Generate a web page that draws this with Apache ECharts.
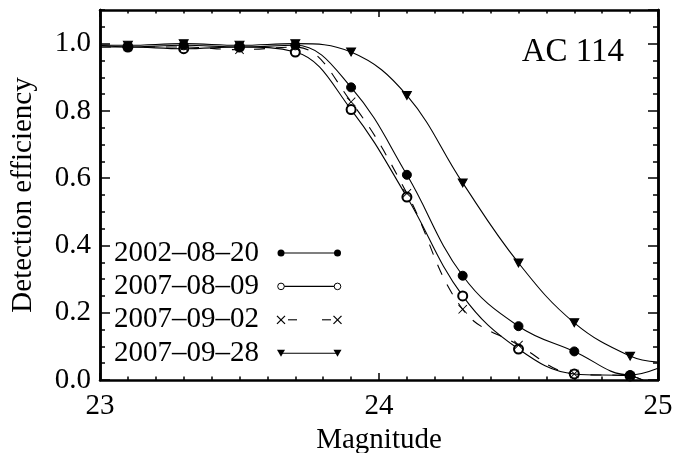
<!DOCTYPE html>
<html>
<head>
<meta charset="utf-8">
<script src="https://cdn.jsdelivr.net/npm/echarts@6/dist/echarts.min.js"></script>
<style>
  html, body { margin: 0; padding: 0; background: #fff; }
  #chart { width: 673px; height: 453px; }
</style>
</head>
<body>
<div id="chart"></div>
<script>
  // magnitudes: first and last are curve ends only (no marker)
  const mags = [23.0, 23.1, 23.3, 23.5, 23.7, 23.9, 24.1, 24.3, 24.5, 24.7, 24.9, 25.0];
  const eff0820 = [0.995, 0.99, 0.995, 0.99, 0.995, 0.87, 0.61, 0.31, 0.16, 0.085, 0.015, 0.035];
  const eff0809 = [0.99, 0.99, 0.985, 0.99, 0.975, 0.804, 0.544, 0.25, 0.092, 0.018, 0.012, -0.03];
  const eff0902 = [0.99, 0.99, 0.99, 0.982, 0.99, 0.827, 0.555, 0.21, 0.104, 0.018, 0.012, -0.03];
  const eff0928 = [0.995, 0.995, 1.0, 0.995, 1.0, 0.975, 0.846, 0.586, 0.348, 0.17, 0.071, 0.053];
  const names = ['2002–08–20', '2007–08–09', '2007–09–02', '2007–09–28'];
  const xTicks = [23, 24, 25];
  const yTicks = [0, 0.2, 0.4, 0.6, 0.8, 1.0];

  const FONT = 'Liberation Serif';
  const crossPath = 'path://M0,0.7L0.7,0L5,4.3L9.3,0L10,0.7L5.7,5L10,9.3L9.3,10L5,5.7L0.7,10L0,9.3L4.3,5Z';

  const makeData = (vals) => vals.map((v, i) => {
    const item = { value: [mags[i], v] };
    if (i === 0 || i === mags.length - 1) item.symbol = 'none';
    return item;
  });

  const lineSeries = (name, vals, symbol, size, extra) => Object.assign({
    name: name,
    type: 'line',
    data: makeData(vals),
    smooth: 0.4,
    symbol: symbol,
    symbolSize: size,
    showAllSymbol: true,
    clip: true,
    lineStyle: { color: '#000', width: 1.1 },
    itemStyle: { color: '#000', borderColor: '#000', borderWidth: 1 },
    emphasis: { disabled: true }
  }, extra || {});

  // legend drawn by hand: text, sample line, marker at each end
  const legendGraphics = () => {
    const out = [];
    const x1 = 281, x2 = 337.5;
    names.forEach((n, i) => {
      const y = 253 + 33.4 * i;
      out.push({ type: 'text', x: 114, y: y, style: { text: n, font: '29px "' + FONT + '"', fill: '#000', verticalAlign: 'middle', align: 'left' } });
      if (i === 2) {
        out.push({ type: 'line', shape: { x1: 288, y1: y, x2: 297, y2: y }, style: { stroke: '#000', lineWidth: 1.1 } });
        out.push({ type: 'line', shape: { x1: 322, y1: y, x2: 331, y2: y }, style: { stroke: '#000', lineWidth: 1.1 } });
      } else {
        out.push({ type: 'line', shape: { x1: x1, y1: y, x2: x2, y2: y }, style: { stroke: '#000', lineWidth: 1.1 } });
      }
      [x1, x2].forEach((x) => {
        if (i === 0) {
          out.push({ type: 'circle', shape: { cx: x, cy: y, r: 3.5 }, style: { fill: '#000' } });
        } else if (i === 1) {
          out.push({ type: 'circle', shape: { cx: x, cy: y, r: 3.3 }, style: { fill: '#fff', stroke: '#000', lineWidth: 1 } });
        } else if (i === 2) {
          out.push({ type: 'line', shape: { x1: x - 4, y1: y - 4, x2: x + 4, y2: y + 4 }, style: { stroke: '#000', lineWidth: 1.2 } });
          out.push({ type: 'line', shape: { x1: x - 4, y1: y + 4, x2: x + 4, y2: y - 4 }, style: { stroke: '#000', lineWidth: 1.2 } });
        } else {
          out.push({ type: 'polygon', shape: { points: [[x - 4, y - 3.5], [x + 4, y - 3.5], [x, y + 3.5]] }, style: { fill: '#000' } });
        }
      });
    });
    out.push({ type: 'text', x: 624, y: 52, style: { text: 'AC 114', font: '33px "' + FONT + '"', fill: '#000', verticalAlign: 'middle', align: 'right' } });
    return out;
  };

  const axisLine = { show: true, onZero: false, lineStyle: { color: '#000', width: 2.5 } };
  const label = { color: '#000', fontSize: 29, fontFamily: FONT };

  const xAxisBase = (pos, showLabel) => ({
    type: 'value', position: pos, min: 23, max: 25, interval: 1,
    axisLine: axisLine,
    axisTick: { show: true, inside: true, length: 7, lineStyle: { color: '#000', width: 1.5 } },
    minorTick: { show: true, splitNumber: 10, length: 3.5, lineStyle: { color: '#000', width: 1.5 } },
    splitLine: { show: false }, minorSplitLine: { show: false },
    axisLabel: Object.assign({ show: showLabel, margin: 12, formatter: (v) => (xTicks.indexOf(v) >= 0 ? String(v) : '') }, label)
  });

  const yAxisBase = (pos, interval, len, showLabel) => ({
    type: 'value', position: pos, min: 0, max: 1.1, interval: interval,
    axisLine: axisLine,
    axisTick: { show: true, inside: true, length: len, lineStyle: { color: '#000', width: 1.5 } },
    splitLine: { show: false },
    axisLabel: Object.assign({
      show: showLabel, margin: 9, showMaxLabel: false,
      formatter: (v) => (yTicks.some((t) => Math.abs(t - v) < 1e-6) ? v.toFixed(1) : '')
    }, label)
  });

  const chart = echarts.init(document.getElementById('chart'), null, { renderer: 'canvas' });
  const yMain = yAxisBase('left', 0.2, 10, true);
  yMain.name = 'Detection efficiency';
  yMain.nameLocation = 'middle';
  yMain.nameGap = 62;
  yMain.nameTextStyle = { color: '#000', fontSize: 29, fontFamily: FONT };
  const xMain = xAxisBase('bottom', true);
  xMain.name = 'Magnitude';
  xMain.nameLocation = 'middle';
  xMain.nameGap = 38;
  xMain.nameTextStyle = { color: '#000', fontSize: 29, fontFamily: FONT };

  chart.setOption({
    animation: false,
    backgroundColor: '#fff',
    grid: { left: 100, right: 15, top: 10, bottom: 73, containLabel: false, outerBoundsMode: 'none' },
    xAxis: [xMain, xAxisBase('top', false)],
    yAxis: [
      yMain,
      yAxisBase('left', 0.05, 5, false),
      yAxisBase('right', 0.2, 10, false),
      yAxisBase('right', 0.05, 5, false)
    ],
    series: [
      lineSeries(names[1], eff0809, 'emptyCircle', 9, { z: 2 }),
      lineSeries(names[2], eff0902, crossPath, 9, { z: 3, lineStyle: { color: '#000', width: 1.1, type: [11, 11] }, itemStyle: { color: '#000', borderWidth: 0 } }),
      lineSeries(names[3], eff0928, 'triangle', [9, 8], { z: 2, symbolRotate: 180 }),
      lineSeries(names[0], eff0820, 'circle', 9, { z: 4 })
    ],
    graphic: legendGraphics()
  });
</script>
</body>
</html>
